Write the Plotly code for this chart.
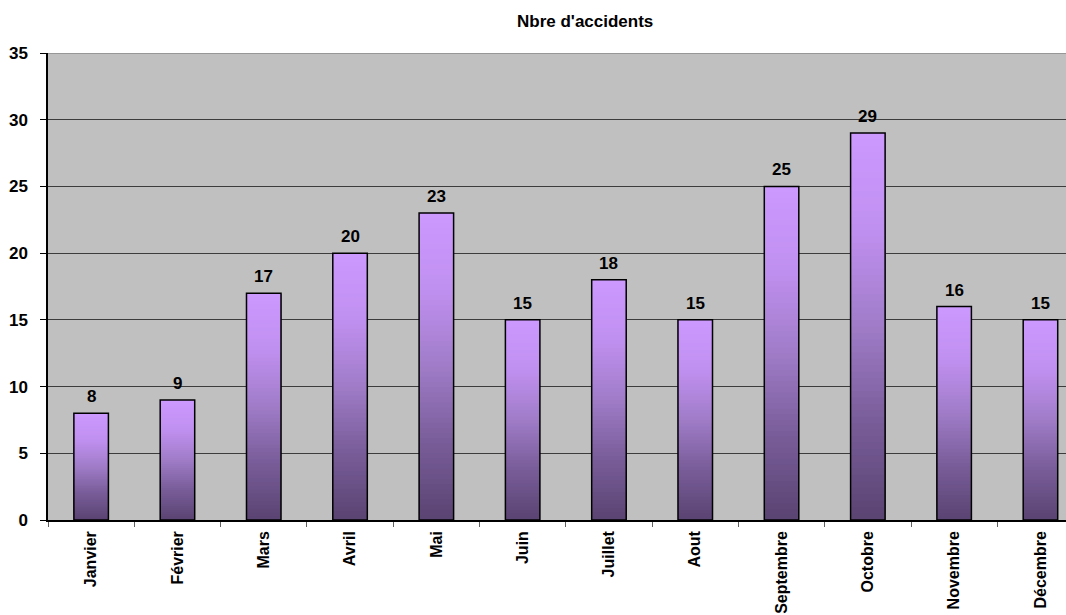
import plotly.graph_objects as go

# Monthly accident counts
months = ["Janvier", "Février", "Mars", "Avril", "Mai", "Juin", "Juillet",
          "Aout", "Septembre", "Octobre", "Novembre", "Décembre"]
accidents = [8, 9, 17, 20, 23, 15, 18, 15, 25, 29, 16, 15]

title_text = "Nbre d'accidents"
y_ticks = [0, 5, 10, 15, 20, 25, 30, 35]

FONT = "Liberation Sans, Arial, sans-serif"
FONT_SIZE = 17
XLABEL_SIZE = 16
BAR_WIDTH = 0.4
N_BANDS = 60

# colour stops of the vertical gradient, bottom (0) to top (1)
stops = [
    (0.00, (0x5A, 0x44, 0x72)),
    (0.25, (0x78, 0x5C, 0x98)),
    (0.50, (0xA0, 0x7C, 0xC8)),
    (0.75, (0xC0, 0x90, 0xF0)),
    (1.00, (0xCC, 0x99, 0xFF)),
]


def grad_color(t):
    for (t0, c0), (t1, c1) in zip(stops[:-1], stops[1:]):
        if t <= t1:
            f = (t - t0) / (t1 - t0)
            r, g, b = (round(a + (b_ - a) * f) for a, b_ in zip(c0, c1))
            return f"rgb({r},{g},{b})"
    r, g, b = stops[-1][1]
    return f"rgb({r},{g},{b})"


fig = go.Figure()

# gradient fill: each band runs from its own base up to the bar top and is
# painted over the previous one, so no seams show between bands
for k in range(N_BANDS):
    t = (k + 0.5) / N_BANDS
    fig.add_trace(go.Bar(
        x=months,
        y=[v * (N_BANDS - k) / N_BANDS for v in accidents],
        base=[v * k / N_BANDS for v in accidents],
        width=BAR_WIDTH,
        marker=dict(color=grad_color(t), line=dict(width=0)),
        hoverinfo="skip",
        showlegend=False,
    ))

# outline of each bar
fig.add_trace(go.Bar(
    x=months,
    y=accidents,
    width=BAR_WIDTH,
    marker=dict(color="rgba(0,0,0,0)", line=dict(color="black", width=1.5)),
    showlegend=False,
))

# value labels above the bars
for m, v in zip(months, accidents):
    fig.add_annotation(
        x=m, y=v, text=f"<b>{v}</b>", showarrow=False,
        yanchor="bottom", yshift=5,
        font=dict(family=FONT, size=FONT_SIZE, color="black"),
    )

# chart title
fig.add_annotation(
    xref="paper", yref="paper", x=0.5275, y=1, yshift=20,
    text=f"<b>{title_text}</b>", showarrow=False, yanchor="bottom",
    font=dict(family=FONT, size=FONT_SIZE, color="black"),
)

# top border of the plotting area
fig.add_shape(type="line", xref="paper", yref="y", x0=0, x1=1, y0=35, y1=35,
              line=dict(color="#8a8a8a", width=1.5), layer="above")

fig.update_layout(
    width=1066, height=615,
    margin=dict(l=48, r=0, t=53, b=95, autoexpand=False),
    paper_bgcolor="white",
    plot_bgcolor="#C0C0C0",
    barmode="overlay",
    font=dict(family=FONT, size=FONT_SIZE, color="black"),
    xaxis=dict(
        type="category",
        range=[-0.5, 11.296],
        tickangle=-90,
        tickfont=dict(family=FONT, size=XLABEL_SIZE, color="black", weight="bold"),
        showline=True, linecolor="black", linewidth=1.5,
        ticks="outside", tickson="boundaries", ticklen=5, tickcolor="#606060",
        ticklabelstandoff=3,
        showgrid=False, automargin=False,
    ),
    yaxis=dict(
        range=[0, 35],
        tickvals=y_ticks,
        tickfont=dict(family=FONT, size=FONT_SIZE, color="black", weight="bold"),
        showline=True, linecolor="black", linewidth=1.5,
        ticks="outside", ticklen=6, tickcolor="black",
        ticklabelstandoff=9,
        showgrid=True, gridcolor="#3c3c3c", gridwidth=1,
        zeroline=False, automargin=False,
    ),
)

fig.write_html("out.html")
